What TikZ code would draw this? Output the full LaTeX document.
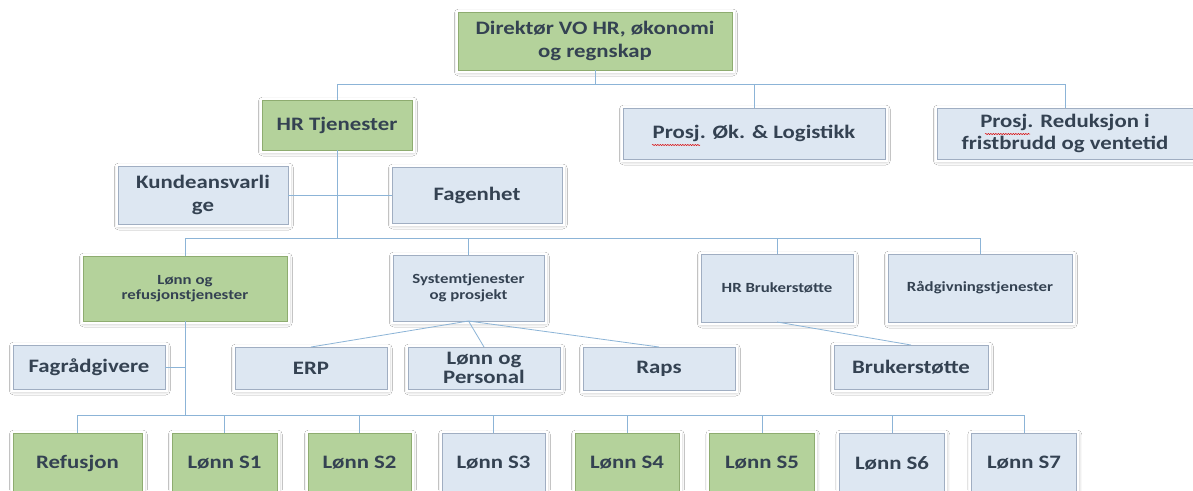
\documentclass[tikz,border=0pt]{standalone}
\usepackage{fontspec}
\setmainfont[FakeStretch=1.2]{Carlito}
\usetikzlibrary{shadows.blur,decorations.pathmorphing}
\definecolor{gfill}{RGB}{180,210,155}
\definecolor{bfill}{RGB}{221,231,242}
\definecolor{gedge}{RGB}{142,172,112}
\definecolor{bedge}{RGB}{160,174,194}
\definecolor{txt}{RGB}{52,66,82}
\definecolor{conncol}{RGB}{140,180,215}
\tikzset{
  box/.style={rectangle, inner sep=0pt, outer sep=0pt, text=txt, align=center, line width=0.8pt,
    blur shadow={shadow xshift=0.8pt, shadow yshift=-1.5pt, shadow blur radius=4.5pt, shadow opacity=45},
    preaction={draw=white, line width=5pt}},
  gbox/.style={box, fill=gfill, draw=gedge},
  bbox/.style={box, fill=bfill, draw=bedge},
  sz/.style 2 args={minimum width=#1pt, minimum height=#2pt},
  big/.style={font=\fontsize{19}{22.5}\selectfont\bfseries},
  small/.style={font=\fontsize{14}{15.5}\selectfont\bfseries},
  conn/.style={draw=conncol, line width=0.8pt},
  spell/.style={draw=red!85!black, line width=0.5pt, decorate, decoration={snake, amplitude=0.6pt, segment length=2.5pt}}
}
\begin{document}
\begin{tikzpicture}[x=1pt,y=-1pt]
\useasboundingbox (0,0) rectangle (1193,490);
\clip (0,0) rectangle (1193,490);
\fill[white] (0,0) rectangle (1193,490);

% level 0
\node[gbox, big, sz={274}{58}] (dir) at (595,41) {Direktør VO HR, økonomi\\og regnskap};
% level 1
\node[gbox, big, sz={150}{50}] (hr) at (337,125) {HR Tjenester};
\node[bbox, big, sz={262}{51}] (pok) at (754,133.5) {Prosj. Øk. \& Logistikk};
\node[bbox, big, sz={256}{51}] (pred) at (1065,133.5) {Prosj. Reduksjon i\\fristbrudd og ventetid};
% level 1b
\node[bbox, big, sz={170}{58}] (kunde) at (203,195) {Kundeansvarli\\ge};
\node[bbox, big, sz={170}{56}] (fag) at (477,195) {Fagenhet};
% level 2
\node[gbox, small, sz={204}{65}] (lonnref) at (185,288.5) {Lønn og\\refusjonstjenester};
\node[bbox, small, sz={151}{66}] (sys) at (468.5,288) {Systemtjenester\\og prosjekt};
\node[bbox, small, sz={152}{68}] (hrbs) at (777,288) {HR Brukerstøtte};
\node[bbox, small, sz={184}{68}] (rad) at (980,288) {Rådgivningstjenester};
% level 2b
\node[bbox, big, sz={152}{44}] (fagr) at (89,367) {Fagrådgivere};
\node[bbox, big, sz={152}{42}] (erp) at (311,368) {ERP};
\node[bbox, sz={152}{42}, font=\fontsize{19}{18.5}\selectfont\bfseries] (lop) at (484,368) {Lønn og\\Personal};
\node[bbox, big, sz={152}{43}] (raps) at (659,368.5) {Raps};
\node[bbox, big, sz={154}{44}] (bruk) at (911,367) {Brukerstøtte};
% level 3
\node[gbox, big, sz={129}{60}] (refus) at (77.5,463) {Refusjon};
\node[gbox, big, sz={105}{60}] (s1) at (224.5,463) {Lønn S1};
\node[gbox, big, sz={103}{60}] (s2) at (359.5,463) {Lønn S2};
\node[bbox, big, sz={103}{60}] (s3) at (493.5,463) {Lønn S3};
\node[gbox, big, sz={104}{60}] (s4) at (627,463) {Lønn S4};
\node[gbox, big, sz={105}{60}] (s5) at (762,463) {Lønn S5};
\node[bbox, big, sz={105}{60}] (s6) at (892,463) {Lønn S6};
\node[bbox, big, sz={105}{60}] (s7) at (1024,463) {Lønn S7};

% connectors
\draw[conn] (dir.south) -- (dir.south |- 0,84);
\draw[conn] (hr.north) -- (hr.north |- 0,84) -- (pred.north |- 0,84) -- (pred.north);
\draw[conn] (pok.north) -- (pok.north |- 0,84);
\draw[conn] (hr.south) -- (hr.south |- 0,238);
\draw[conn] (kunde.east) -- (fag.west);
\draw[conn] (lonnref.north) -- (lonnref.north |- 0,238) -- (rad.north |- 0,238) -- (rad.north);
\draw[conn] (sys.north) -- (sys.north |- 0,238);
\draw[conn] (hrbs.north) -- (hrbs.north |- 0,238);
\draw[conn] (sys.south) -- (erp.north);
\draw[conn] (sys.south) -- (lop.north);
\draw[conn] (sys.south) -- (raps.north);
\draw[conn] (hrbs.south) -- (bruk.north);
\draw[conn] (lonnref.south) -- (lonnref.south |- 0,415);
\draw[conn] (fagr.east) -- (fagr.east -| lonnref.south);
\draw[conn] (refus.north) -- (refus.north |- 0,415) -- (s7.north |- 0,415) -- (s7.north);
\foreach \n in {s1,s2,s3,s4,s5,s6} {\draw[conn] (\n.north) -- (\n.north |- 0,415);}

% spell-check marks
\draw[spell] (652,145) -- (700,145);
\draw[spell] (985,134) -- (1030,134);
\end{tikzpicture}
\end{document}
